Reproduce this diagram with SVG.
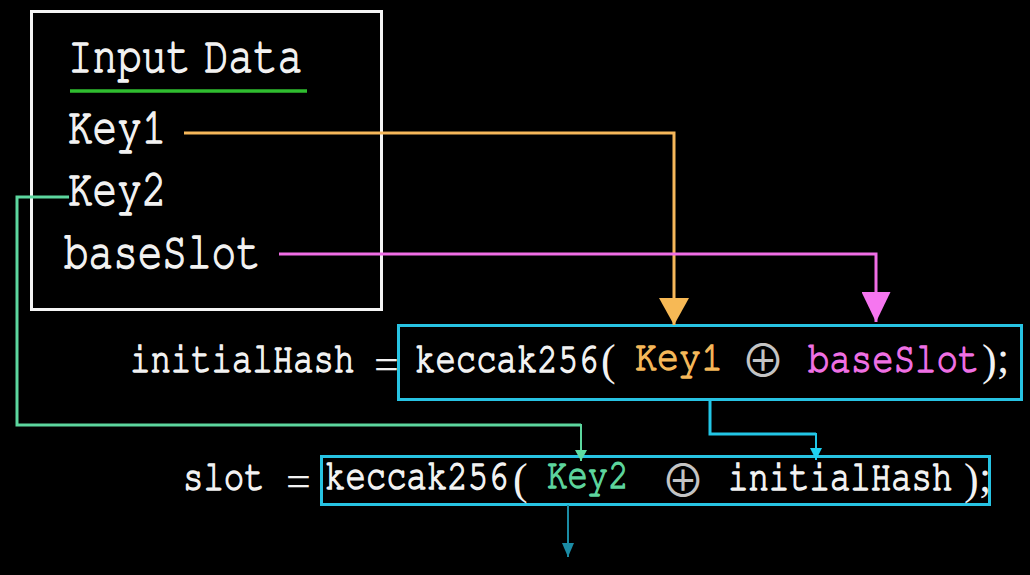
<svg xmlns="http://www.w3.org/2000/svg" width="1030" height="575" viewBox="0 0 1030 575">
  <style>
    .mono { font-family: "FreeMono", "Liberation Mono", "Courier New", monospace; }
    .big { font-size: 41px; }
    .code { font-size: 34px; }
    .white { fill: #f2f2f2; stroke: #f2f2f2; stroke-width: 1.2; }
    .orangeT { fill: #f5b85a; stroke: #f5b85a; stroke-width: 1.1; }
    .pinkT { fill: #ef70e4; stroke: #ef70e4; stroke-width: 1.1; }
    .greenT { fill: #5dd59d; stroke: #5dd59d; stroke-width: 1.1; }
    .sym { font-family: "Liberation Serif", "Times New Roman", serif; fill: #f2f2f2; font-size: 44px; }
    .oplus { font-family: "Noto Sans CJK JP", "DejaVu Sans", sans-serif; font-size: 44px; fill: #c4c4c4; }
    .box { fill: none; stroke-width: 3; }
    .conn { fill: none; }
  </style>
  <defs>
    <marker id="arrOrange" viewBox="0 0 27 30" refX="27" refY="15" markerWidth="27" markerHeight="30" markerUnits="userSpaceOnUse" orient="auto">
      <path d="M0,0 L27,15 L0,30 Z" fill="#f7b955"/>
    </marker>
    <marker id="arrPink" viewBox="0 0 30 29" refX="30" refY="14.5" markerWidth="30" markerHeight="29" markerUnits="userSpaceOnUse" orient="auto">
      <path d="M0,0 L30,14.5 L0,29 Z" fill="#f676f0"/>
    </marker>
    <marker id="arrGreen" viewBox="0 0 11 12" refX="11" refY="6" markerWidth="11" markerHeight="12" markerUnits="userSpaceOnUse" orient="auto">
      <path d="M0,0 L11,6 L0,12 Z" fill="#5fdba3"/>
    </marker>
    <marker id="arrCyan" viewBox="0 0 12 12" refX="12" refY="6" markerWidth="12" markerHeight="12" markerUnits="userSpaceOnUse" orient="auto">
      <path d="M0,0 L12,6 L0,12 Z" fill="#1fd2f2"/>
    </marker>
    <marker id="arrTeal" viewBox="0 0 14 12" refX="14" refY="6" markerWidth="14" markerHeight="12" markerUnits="userSpaceOnUse" orient="auto">
      <path d="M0,0 L14,6 L0,12 Z" fill="#1b8ca5"/>
    </marker>
  </defs>

  <rect width="1030" height="575" fill="#000000"/>

  <g id="input-data">
    <rect x="31.5" y="11.5" width="350" height="298" fill="none" stroke="#f5f5f5" stroke-width="3"/>
    <text class="mono big white" transform="translate(68,72) scale(1,1.25)">Input</text>
    <text class="mono big white" transform="translate(204,72) scale(1,1.25)">Data</text>
    <line x1="70" y1="91" x2="307" y2="91" stroke="#2fbd2f" stroke-width="3.5"/>
    <text class="mono big white" transform="translate(68,143) scale(1,1.25)">Key1</text>
    <text class="mono big white" transform="translate(68,205) scale(1,1.25)">Key2</text>
    <text class="mono big white" transform="translate(64,268) scale(1,1.25)">baseSlot</text>
  </g>

  <g id="initial-hash">
    <text class="mono code white" transform="translate(130,372) scale(1,1.25)">initialHash</text>
    <text class="sym" x="374" y="379">=</text>
    <rect class="box" x="398.5" y="325.5" width="623" height="74" stroke="#27c3e3"/>
    <text class="mono code white" transform="translate(415,372) scale(1,1.25)">keccak256</text>
    <text class="sym" x="601" y="375">(</text>
    <text class="mono code orangeT" transform="translate(635,370) scale(1,1.25)" textLength="88" lengthAdjust="spacingAndGlyphs">Key1</text>
    <text class="oplus" x="763" y="377" text-anchor="middle">⊕</text>
    <text class="mono code pinkT" transform="translate(808,372) scale(1.05,1.25)">baseSlot</text>
    <text class="sym" x="982" y="375">)</text>
    <text class="sym" x="997" y="372">;</text>
  </g>

  <g id="slot">
    <text class="mono code white" transform="translate(183,490) scale(1,1.25)">slot</text>
    <text class="sym" x="286" y="496">=</text>
    <rect class="box" x="321.5" y="456.5" width="668" height="48" stroke="#27c3e3"/>
    <text class="mono code white" transform="translate(325,489) scale(1,1.25)">keccak256</text>
    <text class="sym" x="513" y="494">(</text>
    <text class="mono code greenT" transform="translate(547,488) scale(1,1.25)">Key2</text>
    <text class="oplus" x="683" y="497" text-anchor="middle">⊕</text>
    <text class="mono code white" transform="translate(728,490) scale(1,1.25)">initialHash</text>
    <text class="sym" x="964" y="494">)</text>
    <text class="sym" x="979" y="491">;</text>
  </g>

  <g id="connectors" class="conn">
    <path d="M184,133 H674 V325" stroke="#f6b75a" stroke-width="3" marker-end="url(#arrOrange)"/>
    <path d="M279,254 H876 V322" stroke="#f06ee6" stroke-width="3" marker-end="url(#arrPink)"/>
    <path d="M69,197 H17 V425 H581" stroke="#5cd69e" stroke-width="3"/>
    <path d="M581,424 V461" stroke="#5cd69e" stroke-width="2" marker-end="url(#arrGreen)"/>
    <path d="M710,400 V434 H816" stroke="#22c6e6" stroke-width="3"/>
    <path d="M816,433 V460" stroke="#22c6e6" stroke-width="2" marker-end="url(#arrCyan)"/>
    <path d="M568,505 V557" stroke="#1b8ca5" stroke-width="2" marker-end="url(#arrTeal)"/>
  </g>
</svg>
